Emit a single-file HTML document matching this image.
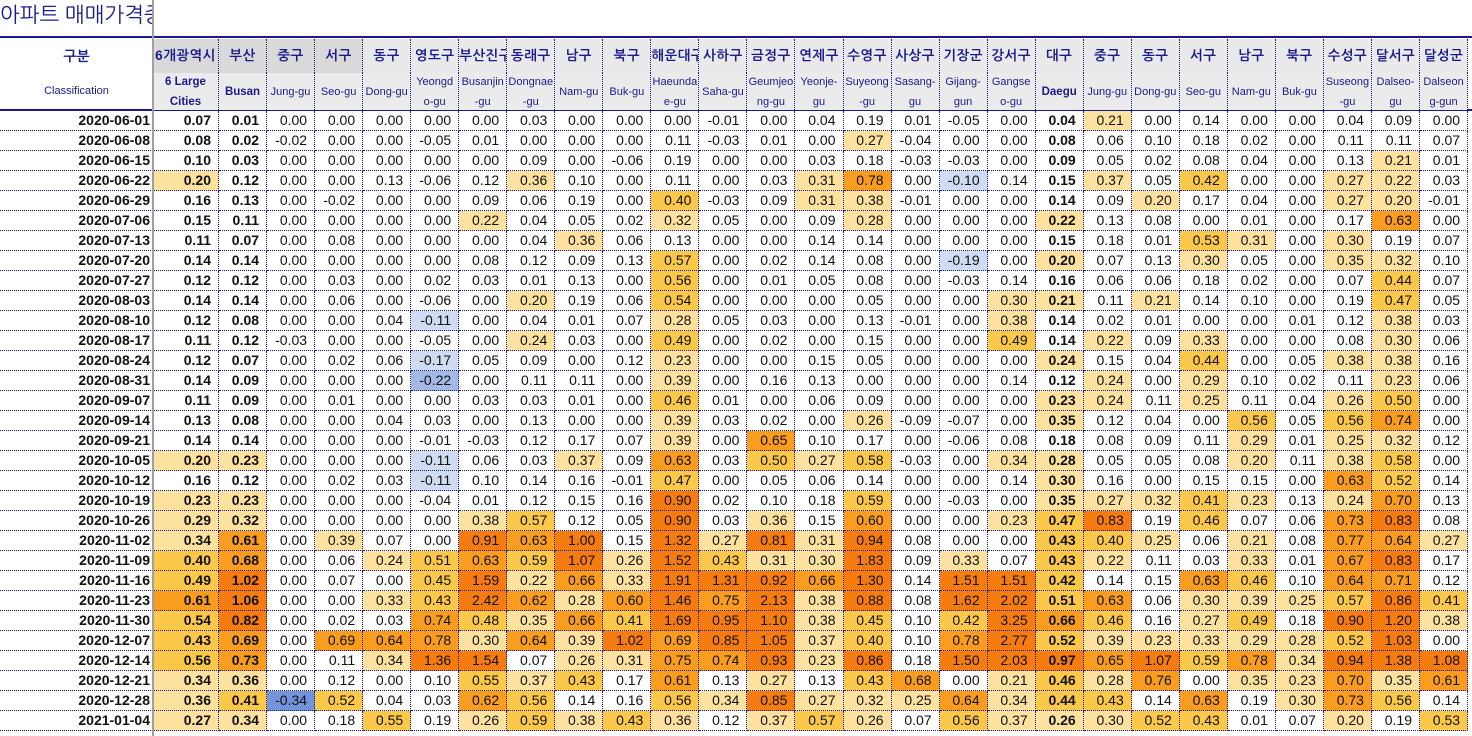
<!DOCTYPE html>
<html><head><meta charset="utf-8">
<style>
body{margin:0;width:1472px;height:736px;overflow:hidden;background:#fff;position:relative;font-family:"Liberation Sans","Noto Sans CJK KR",sans-serif;}
.abs{position:absolute;box-sizing:border-box;}
.cell{position:absolute;box-sizing:border-box;height:20px;border-right:1px dotted #1a1a8c;border-bottom:1px dotted #1a1a8c;font-size:14px;line-height:19px;text-align:right;padding-right:7px;color:#111;}
.hk{position:absolute;box-sizing:border-box;border-right:1px dotted #1a1a8c;font-size:13.5px;font-weight:bold;color:#1a1a8c;text-align:center;line-height:34px;height:34px;top:39px;font-family:"Liberation Sans","NanumGothic",sans-serif;letter-spacing:0.5px;white-space:nowrap;overflow:hidden;}
.he{position:absolute;box-sizing:border-box;border-right:1px dotted #1a1a8c;font-size:11px;color:#1a1a8c;text-align:center;top:73px;height:37px;background:#ebebeb;display:flex;align-items:center;justify-content:center;line-height:20px;}
</style></head><body>
<div class="abs" style="left:0;top:3px;width:153px;overflow:hidden;white-space:nowrap;font-size:21px;color:#1a1a8c;font-family:'Liberation Sans','NanumGothic',sans-serif;">아파트 매매가격증</div>
<div class="abs" style="left:0;top:36px;width:1472px;height:2px;background:#1a1a8c;"></div>
<div class="abs" style="left:0;top:109px;width:1472px;height:2px;background:#1a1a8c;"></div>
<div class="abs" style="left:0;top:39px;width:153px;height:34px;line-height:34px;text-align:center;font-size:14px;font-weight:bold;color:#1a1a8c;font-family:'Liberation Sans','NanumGothic',sans-serif;">구분</div>
<div class="abs" style="left:0;top:73px;width:153px;height:37px;line-height:37px;text-align:center;font-size:11px;color:#1a1a8c;">Classification</div>
<div id="grid"></div>
<div class="abs" style="left:152px;top:0;width:2px;height:736px;background:#a0a0a0;"></div>
<script>
const dates=["2020-06-01","2020-06-08","2020-06-15","2020-06-22","2020-06-29","2020-07-06","2020-07-13","2020-07-20","2020-07-27","2020-08-03","2020-08-10","2020-08-17","2020-08-24","2020-08-31","2020-09-07","2020-09-14","2020-09-21","2020-10-05","2020-10-12","2020-10-19","2020-10-26","2020-11-02","2020-11-09","2020-11-16","2020-11-23","2020-11-30","2020-12-07","2020-12-14","2020-12-21","2020-12-28","2021-01-04"];
const regionsKo=["6개광역시","부산","중구","서구","동구","영도구","부산진구","동래구","남구","북구","해운대구","사하구","금정구","연제구","수영구","사상구","기장군","강서구","대구","중구","동구","서구","남구","북구","수성구","달서구","달성군"];
const regionsEn=["6 Large<br>Cities","Busan","Jung-gu","Seo-gu","Dong-gu","Yeongd<br>o-gu","Busanjin<br>-gu","Dongnae<br>-gu","Nam-gu","Buk-gu","Haeunda<br>e-gu","Saha-gu","Geumjeo<br>ng-gu","Yeonje-<br>gu","Suyeong<br>-gu","Sasang-<br>gu","Gijang-<br>gun","Gangse<br>o-gu","Daegu","Jung-gu","Dong-gu","Seo-gu","Nam-gu","Buk-gu","Suseong<br>-gu","Dalseo-<br>gu","Dalseon<br>g-gun"];
const v0=[
[0.07,0.01,0.00,0.00,0.00,0.00,0.00,0.03,0.00,0.00,0.00,-0.01,0.00,0.04,0.19,0.01,-0.05,0.00,0.04,0.21,0.00,0.14,0.00,0.00,0.04,0.09,0.00],
[0.08,0.02,-0.02,0.00,0.00,-0.05,0.01,0.00,0.00,0.00,0.11,-0.03,0.01,0.00,0.27,-0.04,0.00,0.00,0.08,0.06,0.10,0.18,0.02,0.00,0.11,0.11,0.07],
[0.10,0.03,0.00,0.00,0.00,0.00,0.00,0.09,0.00,-0.06,0.19,0.00,0.00,0.03,0.18,-0.03,-0.03,0.00,0.09,0.05,0.02,0.08,0.04,0.00,0.13,0.21,0.01],
[0.20,0.12,0.00,0.00,0.13,-0.06,0.12,0.36,0.10,0.00,0.11,0.00,0.03,0.31,0.78,0.00,-0.10,0.14,0.15,0.37,0.05,0.42,0.00,0.00,0.27,0.22,0.03],
[0.16,0.13,0.00,-0.02,0.00,0.00,0.09,0.06,0.19,0.00,0.40,-0.03,0.09,0.31,0.38,-0.01,0.00,0.00,0.14,0.09,0.20,0.17,0.04,0.00,0.27,0.20,-0.01],
[0.15,0.11,0.00,0.00,0.00,0.00,0.22,0.04,0.05,0.02,0.32,0.05,0.00,0.09,0.28,0.00,0.00,0.00,0.22,0.13,0.08,0.00,0.01,0.00,0.17,0.63,0.00],
[0.11,0.07,0.00,0.08,0.00,0.00,0.00,0.04,0.36,0.06,0.13,0.00,0.00,0.14,0.14,0.00,0.00,0.00,0.15,0.18,0.01,0.53,0.31,0.00,0.30,0.19,0.07],
[0.14,0.14,0.00,0.00,0.00,0.00,0.08,0.12,0.09,0.13,0.57,0.00,0.02,0.14,0.08,0.00,-0.19,0.00,0.20,0.07,0.13,0.30,0.05,0.00,0.35,0.32,0.10],
[0.12,0.12,0.00,0.03,0.00,0.02,0.03,0.01,0.13,0.00,0.56,0.00,0.01,0.05,0.08,0.00,-0.03,0.14,0.16,0.06,0.06,0.18,0.02,0.00,0.07,0.44,0.07],
[0.14,0.14,0.00,0.06,0.00,-0.06,0.00,0.20,0.19,0.06,0.54,0.00,0.00,0.00,0.05,0.00,0.00,0.30,0.21,0.11,0.21,0.14,0.10,0.00,0.19,0.47,0.05],
[0.12,0.08,0.00,0.00,0.04,-0.11,0.00,0.04,0.01,0.07,0.28,0.05,0.03,0.00,0.13,-0.01,0.00,0.38,0.14,0.02,0.01,0.00,0.00,0.01,0.12,0.38,0.03]];
const v1=[
[0.11,0.12,-0.03,0.00,0.00,-0.05,0.00,0.24,0.03,0.00,0.49,0.00,0.02,0.00,0.15,0.00,0.00,0.49,0.14,0.22,0.09,0.33,0.00,0.00,0.08,0.30,0.06],
[0.12,0.07,0.00,0.02,0.06,-0.17,0.05,0.09,0.00,0.12,0.23,0.00,0.00,0.15,0.05,0.00,0.00,0.00,0.24,0.15,0.04,0.44,0.00,0.05,0.38,0.38,0.16],
[0.14,0.09,0.00,0.00,0.00,-0.22,0.00,0.11,0.11,0.00,0.39,0.00,0.16,0.13,0.00,0.00,0.00,0.14,0.12,0.24,0.00,0.29,0.10,0.02,0.11,0.23,0.06],
[0.11,0.09,0.00,0.01,0.00,0.00,0.03,0.03,0.01,0.00,0.46,0.01,0.00,0.06,0.09,0.00,0.00,0.00,0.23,0.24,0.11,0.25,0.11,0.04,0.26,0.50,0.00],
[0.13,0.08,0.00,0.00,0.04,0.03,0.00,0.13,0.00,0.00,0.39,0.03,0.02,0.00,0.26,-0.09,-0.07,0.00,0.35,0.12,0.04,0.00,0.56,0.05,0.56,0.74,0.00],
[0.14,0.14,0.00,0.00,0.00,-0.01,-0.03,0.12,0.17,0.07,0.39,0.00,0.65,0.10,0.17,0.00,-0.06,0.08,0.18,0.08,0.09,0.11,0.29,0.01,0.25,0.32,0.12],
[0.20,0.23,0.00,0.00,0.00,-0.11,0.06,0.03,0.37,0.09,0.63,0.03,0.50,0.27,0.58,-0.03,0.00,0.34,0.28,0.05,0.05,0.08,0.20,0.11,0.38,0.58,0.00],
[0.16,0.12,0.00,0.02,0.03,-0.11,0.10,0.14,0.16,-0.01,0.47,0.00,0.05,0.06,0.14,0.00,0.00,0.14,0.30,0.16,0.00,0.15,0.15,0.00,0.63,0.52,0.14],
[0.23,0.23,0.00,0.00,0.00,-0.04,0.01,0.12,0.15,0.16,0.90,0.02,0.10,0.18,0.59,0.00,-0.03,0.00,0.35,0.27,0.32,0.41,0.23,0.13,0.24,0.70,0.13],
[0.29,0.32,0.00,0.00,0.00,0.00,0.38,0.57,0.12,0.05,0.90,0.03,0.36,0.15,0.60,0.00,0.00,0.23,0.47,0.83,0.19,0.46,0.07,0.06,0.73,0.83,0.08]];
const v2=[
[0.34,0.61,0.00,0.39,0.07,0.00,0.91,0.63,1.00,0.15,1.32,0.27,0.81,0.31,0.94,0.08,0.00,0.00,0.43,0.40,0.25,0.06,0.21,0.08,0.77,0.64,0.27],
[0.40,0.68,0.00,0.06,0.24,0.51,0.63,0.59,1.07,0.26,1.52,0.43,0.31,0.30,1.83,0.09,0.33,0.07,0.43,0.22,0.11,0.03,0.33,0.01,0.67,0.83,0.17],
[0.49,1.02,0.00,0.07,0.00,0.45,1.59,0.22,0.66,0.33,1.91,1.31,0.92,0.66,1.30,0.14,1.51,1.51,0.42,0.14,0.15,0.63,0.46,0.10,0.64,0.71,0.12],
[0.61,1.06,0.00,0.00,0.33,0.43,2.42,0.62,0.28,0.60,1.46,0.75,2.13,0.38,0.88,0.08,1.62,2.02,0.51,0.63,0.06,0.30,0.39,0.25,0.57,0.86,0.41],
[0.54,0.82,0.00,0.02,0.03,0.74,0.48,0.35,0.66,0.41,1.69,0.95,1.10,0.38,0.45,0.10,0.42,3.25,0.66,0.46,0.16,0.27,0.49,0.18,0.90,1.20,0.38],
[0.43,0.69,0.00,0.69,0.64,0.78,0.30,0.64,0.39,1.02,0.69,0.85,1.05,0.37,0.40,0.10,0.78,2.77,0.52,0.39,0.23,0.33,0.29,0.28,0.52,1.03,0.00],
[0.56,0.73,0.00,0.11,0.34,1.36,1.54,0.07,0.26,0.31,0.75,0.74,0.93,0.23,0.86,0.18,1.50,2.03,0.97,0.65,1.07,0.59,0.78,0.34,0.94,1.38,1.08],
[0.34,0.36,0.00,0.12,0.00,0.10,0.55,0.37,0.43,0.17,0.61,0.13,0.27,0.13,0.43,0.68,0.00,0.21,0.46,0.28,0.76,0.00,0.35,0.23,0.70,0.35,0.61],
[0.36,0.41,-0.34,0.52,0.04,0.03,0.62,0.56,0.14,0.16,0.56,0.34,0.85,0.27,0.32,0.25,0.64,0.34,0.44,0.43,0.14,0.63,0.19,0.30,0.73,0.56,0.14],
[0.27,0.34,0.00,0.18,0.55,0.19,0.26,0.59,0.38,0.43,0.36,0.12,0.37,0.57,0.26,0.07,0.56,0.37,0.26,0.30,0.52,0.43,0.01,0.07,0.20,0.19,0.53]];
const values=v0.concat(v1,v2);
const boldCols=[0,1,18];

function colX(j){return j===0?153:219+(j-1)*48.04;}
function colW(j){return j===0?66:48.04;}
function rowY(i){return 111+i*20;}
function fill(v){
  if(v>=0.8)return"#f77c10";
  if(v>=0.6)return"#fa9c1e";
  if(v>=0.4)return"#fcc84a";
  if(v>=0.2)return"#fde29f";
  if(v<=-0.3)return"#7394da";
  if(v<=-0.2)return"#a6b9e6";
  if(v<=-0.1)return"#d0dcf2";
  return"#ffffff";
}
const g=document.getElementById('grid');
const darkHdr=[0,1,2,3];
regionsKo.forEach(function(k,j){
  const h=document.createElement('div');
  h.className='hk';
  
  
  h.style.left=colX(j)+'px';h.style.width=colW(j)+'px';
  h.style.background=darkHdr.indexOf(j)>=0?'#d9d9d9':'#e9e9e9';
  h.textContent=k;
  g.appendChild(h);
  const e=document.createElement('div');
  e.className='he';
  
  
  e.style.left=colX(j)+'px';e.style.width=colW(j)+'px';
  if(boldCols.indexOf(j)>=0){e.style.fontWeight='bold';e.style.fontSize='11.5px';}
  e.innerHTML='<span>'+regionsEn[j]+'</span>';
  g.appendChild(e);
});
dates.forEach(function(d,i){
  const dc=document.createElement('div');
  dc.className='cell';
  
  
  dc.style.left='0px';dc.style.width='153px';dc.style.top=rowY(i)+'px';
  dc.style.fontWeight='bold';dc.style.borderRight='none';dc.style.paddingRight='3px';
  dc.textContent=d;
  g.appendChild(dc);
  values[i].forEach(function(v,j){
    const c=document.createElement('div');
    c.className='cell';
    
    
    c.style.left=colX(j)+'px';c.style.width=colW(j)+'px';c.style.top=rowY(i)+'px';
    c.style.background=fill(v);
    if(boldCols.indexOf(j)>=0)c.style.fontWeight='bold';
    c.textContent=v.toFixed(2);
    g.appendChild(c);
  });
});
</script>
</body></html>
